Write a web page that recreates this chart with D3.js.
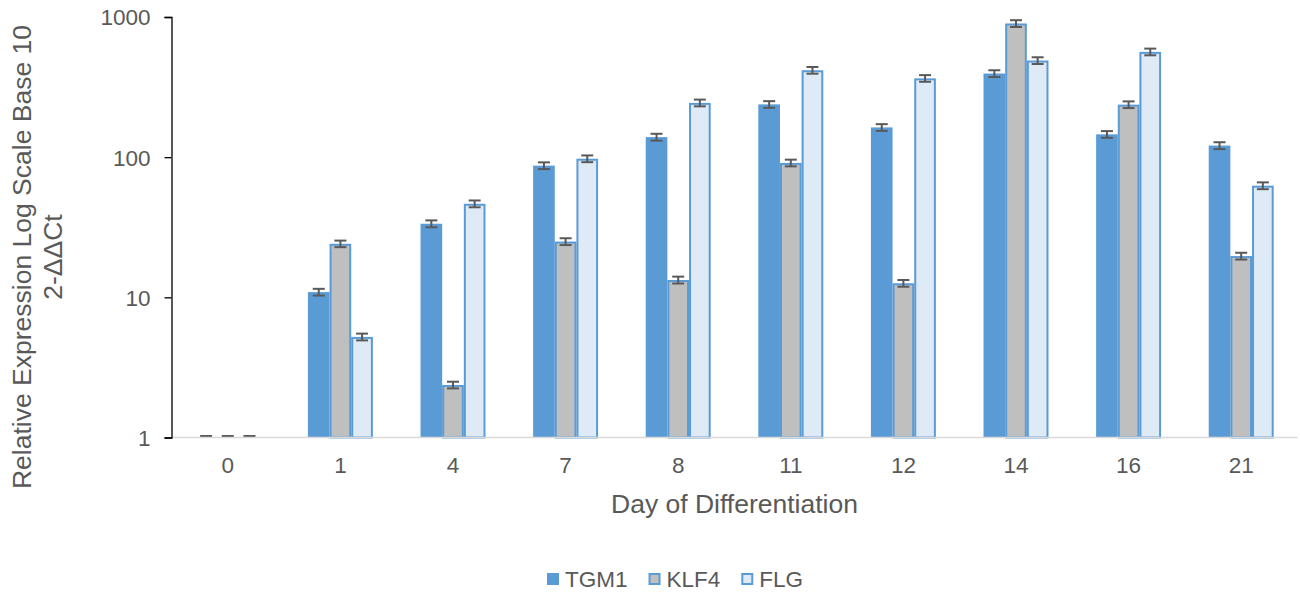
<!DOCTYPE html>
<html>
<head>
<meta charset="utf-8">
<script src="https://cdn.jsdelivr.net/npm/d3@7"></script>
<style>
  html, body { margin: 0; padding: 0; background: #fff; }
  svg { display: block; font-family: Arial, "Liberation Sans", sans-serif; }
</style>
</head>
<body>
<svg id="chart" width="1300" height="595"></svg>
<script>
// data
const days = ["0", "1", "4", "7", "8", "11", "12", "14", "16", "21"];
const seriesNames = ["TGM1", "KLF4", "FLG"];
const tgm1 = [1, 10.9, 33.5, 87, 139, 238, 163, 395, 145.5, 121];
const klf4 = [1, 24.1, 2.37, 25, 13.3, 91, 12.6, 899, 237, 19.7];
const flg = [1, 5.22, 46.5, 97.5, 244, 417, 365, 489, 564, 62.6];
const tgm1Err = [0.025, 0.6, 1.9, 4.8, 7.8, 13, 9, 22, 8, 6.8];
const klf4Err = [0.025, 1.3, 0.13, 1.4, 0.75, 5, 0.7, 50, 13, 1.1];
const flgErr = [0.025, 0.29, 2.6, 5.4, 13.5, 23, 20, 27, 31, 3.5];
const yTicks = [1, 10, 100, 1000];

const config = {
  left: 171.5,
  right: 1297.5,
  top: 17,
  bottom: 437.5,
  groupFrac: 0.577,
  capWidth: 12,
};

const fills = { TGM1: "#5B9BD5", KLF4: "#BFBFBF", FLG: "#DEEBF7" };
const edge = "#5B9BD5";
const textColor = "#595959";

const values = { TGM1: tgm1, KLF4: klf4, FLG: flg };
const errors = { TGM1: tgm1Err, KLF4: klf4Err, FLG: flgErr };

const rows = days.map((d, i) => ({
  day: d,
  bars: seriesNames.map((s) => ({ key: s, value: values[s][i], err: errors[s][i] })),
}));

const svg = d3.select("#chart");

const x0 = d3.scaleBand().domain(days).range([config.left, config.right]).padding(0);
const bw = x0.bandwidth();
const gw = bw * config.groupFrac;
const x1 = d3
  .scaleBand()
  .domain(seriesNames)
  .range([(bw - gw) / 2, (bw + gw) / 2]);

const y = d3.scaleLog().domain([1, 1000]).range([config.bottom, config.top]);

// bars
const groups = svg
  .append("g")
  .selectAll("g.day")
  .data(rows)
  .join("g")
  .classed("day", true)
  .attr("transform", (d) => `translate(${x0(d.day)},0)`);

groups
  .selectAll("rect")
  .data((d) => d.bars)
  .join("rect")
  .attr("x", (d) => x1(d.key) + (d.key === "TGM1" ? 0 : 1))
  .attr("y", (d) => y(d.value) + (d.key === "TGM1" ? 0 : 1))
  .attr("width", (d) => x1.bandwidth() - (d.key === "TGM1" ? 0 : 2))
  .attr("height", (d) => Math.max(0, y(1) - y(d.value) - (d.key === "TGM1" ? 0 : 1)))
  .attr("fill", (d) => fills[d.key])
  .attr("stroke", (d) => (d.key === "TGM1" || d.value <= 1 ? "none" : edge))
  .attr("stroke-width", 2);

// x baseline
svg
  .append("line")
  .attr("x1", config.left)
  .attr("x2", config.right)
  .attr("y1", config.bottom)
  .attr("y2", config.bottom)
  .attr("stroke", "#D9D9D9")
  .attr("stroke-width", 1.5);

// error bars
const eb = groups
  .selectAll("g.err")
  .data((d) => d.bars)
  .join("g")
  .classed("err", true)
  .attr("stroke", "#595959")
  .attr("stroke-width", 2);

const cx = (d) => x1(d.key) + x1.bandwidth() / 2;
eb.append("line")
  .attr("x1", cx)
  .attr("x2", cx)
  .attr("y1", (d) => y(d.value + d.err))
  .attr("y2", (d) => y(Math.max(1, d.value - d.err)));
eb.append("line")
  .attr("x1", (d) => cx(d) - config.capWidth / 2)
  .attr("x2", (d) => cx(d) + config.capWidth / 2)
  .attr("y1", (d) => y(d.value + d.err))
  .attr("y2", (d) => y(d.value + d.err));
eb.filter((d) => d.value - d.err > 1)
  .append("line")
  .attr("x1", (d) => cx(d) - config.capWidth / 2)
  .attr("x2", (d) => cx(d) + config.capWidth / 2)
  .attr("y1", (d) => y(d.value - d.err))
  .attr("y2", (d) => y(d.value - d.err));

// y axis
const yAxis = d3
  .axisLeft(y)
  .tickValues(yTicks)
  .tickFormat(d3.format("d"))
  .tickSize(7)
  .tickPadding(14);
const yg = svg.append("g").attr("transform", `translate(${config.left},0)`).call(yAxis);
yg.select(".domain").attr("stroke", "#000").attr("stroke-width", 1.3);
yg.selectAll(".tick line").attr("stroke", "#000").attr("stroke-width", 1.3);
yg.selectAll(".tick text")
  .attr("fill", textColor)
  .style("font-size", "22.5px")
  .attr("dy", "0.35em");

// x tick labels
const xAxis = d3.axisBottom(x0).tickSize(0).tickPadding(20);
const xg = svg.append("g").attr("transform", `translate(0,${config.bottom})`).call(xAxis);
xg.select(".domain").remove();
xg.selectAll(".tick text").attr("fill", textColor).style("font-size", "22.5px");

// axis titles
svg
  .append("text")
  .attr("x", (config.left + config.right) / 2)
  .attr("y", 513)
  .attr("text-anchor", "middle")
  .attr("fill", textColor)
  .style("font-size", "26.5px")
  .text("Day of Differentiation");

const yt = svg
  .append("text")
  .attr("transform", "translate(31,257) rotate(-90)")
  .attr("text-anchor", "middle")
  .attr("fill", textColor)
  .style("font-size", "26.5px");
yt.append("tspan").attr("x", 0).attr("y", 0).text("Relative Expression Log Scale Base 10");
yt.append("tspan").attr("x", 0).attr("y", 31).text("2-ΔΔCt");

// legend
const legend = svg.append("g").attr("transform", "translate(547,579)");
let lx = 0;
seriesNames.forEach((s) => {
  const g = legend.append("g").attr("transform", `translate(${lx},0)`);
  g.append("rect")
    .attr("x", s === "TGM1" ? 0 : 1)
    .attr("y", s === "TGM1" ? -6 : -5)
    .attr("width", s === "TGM1" ? 12 : 10)
    .attr("height", s === "TGM1" ? 12 : 10)
    .attr("fill", fills[s])
    .attr("stroke", s === "TGM1" ? "none" : edge)
    .attr("stroke-width", 2);
  const t = g
    .append("text")
    .attr("x", 18)
    .attr("dy", "0.35em")
    .attr("fill", textColor)
    .style("font-size", "22.5px")
    .text(s);
  lx += 18 + t.node().getComputedTextLength() + 21;
});
</script>
</body>
</html>
